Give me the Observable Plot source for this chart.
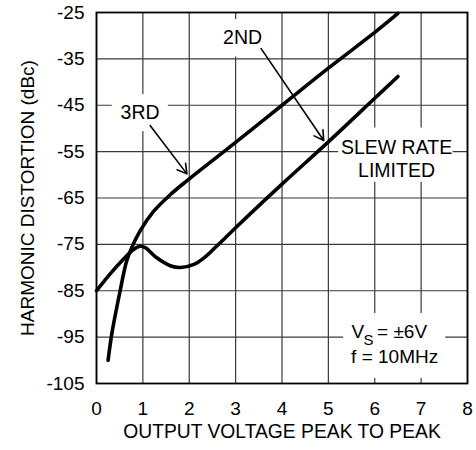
<!DOCTYPE html>
<html>
<head>
<meta charset="utf-8">
<script src="https://cdn.jsdelivr.net/npm/d3@7"></script>
<script src="https://cdn.jsdelivr.net/npm/@observablehq/plot@0.6"></script>
<style>
  html, body { margin: 0; padding: 0; background: #fff; }
</style>
</head>
<body>
<div id="chart"></div>
<script>
// Axis ticks
const xTicks = [0, 1, 2, 3, 4, 5, 6, 7, 8];
const yTicks = [-105, -95, -85, -75, -65, -55, -45, -35, -25];
const xTitle = "OUTPUT VOLTAGE PEAK TO PEAK";
const yTitle = "HARMONIC DISTORTION (dBc)";

// 3RD harmonic curve
const thirdX = [0.25, 0.33, 0.51, 0.65, 0.76, 0.94, 1.23, 1.59, 1.96, 3, 4, 5, 6, 6.5];
const thirdY = [-100, -94.3, -85, -78.6, -75.7, -72.1, -67.9, -64.3, -61.2, -53, -45, -37, -29.3, -25.2];

// 2ND harmonic curve
const secondX = [0, 0.29, 0.58, 0.8, 0.94, 1.05, 1.3, 1.59, 1.81, 2.1, 2.32, 2.6, 3, 4, 5, 6, 6.5];
const secondY = [-85, -81.4, -78.2, -76.1, -75.4, -75.7, -77.9, -79.6, -80, -79.3, -77.9, -75.3, -71.4, -62, -52.9, -43.5, -38.8];

// Annotations (data coordinates)
const boxes = [
  {x1: 2.56, x2: 3.75, y1: -26.5, y2: -34.6},
  {x1: 0.34, x2: 1.55, y1: -42.7, y2: -50.7},
  {x1: 5.22, x2: 7.69, y1: -49.9, y2: -61.6},
  {x1: 5.33, x2: 7.53, y1: -89.9, y2: -103.9}
];
const arrows = [
  {x1: 3.55, y1: -32.8, x2: 4.90, y2: -52.6},
  {x1: 1.16, y1: -49.4, x2: 1.95, y2: -59.8}
];
const labels = [
  {x: 3.15, y: -30.5, text: "2ND"},
  {x: 0.94, y: -46.7, text: "3RD"},
  {x: 6.47, y: -54.1, text: "SLEW RATE"},
  {x: 6.47, y: -59.05, text: "LIMITED"}
];
const leftLabels = [
  {x: 5.50, y: -93.9, text: "V", size: 19},
  {x: 5.76, y: -95.6, text: "S", size: 15},
  {x: 6.05, y: -93.9, text: "= ±6V", size: 19},
  {x: 5.49, y: -99.35, text: "f = 10MHz", size: 19}
];

const third = thirdX.map((x, i) => ({x, y: thirdY[i]}));
const second = secondX.map((x, i) => ({x, y: secondY[i]}));

const font = "'Liberation Sans', Arial, Helvetica, sans-serif";

const chart = Plot.plot({
  width: 476,
  height: 450,
  marginLeft: 96,
  marginRight: 9,
  marginTop: 12,
  marginBottom: 67,
  style: {fontFamily: font, fontSize: "19px", background: "white", color: "black"},
  x: {domain: [0, 8], ticks: xTicks, tickSize: 0, tickPadding: 18, tickFormat: d => String(d), label: null},
  y: {domain: [-105, -25], ticks: yTicks, tickSize: 0, tickPadding: 12, tickFormat: d => String(d), label: null},
  marks: [
    Plot.ruleX(xTicks, {stroke: "#3a3a3a", strokeWidth: 1.2}),
    Plot.ruleY(yTicks, {stroke: "#3a3a3a", strokeWidth: 1.2}),
    Plot.rect(boxes, {x1: "x1", x2: "x2", y1: "y1", y2: "y2", fill: "white"}),
    Plot.frame({stroke: "black", strokeWidth: 1.8}),
    Plot.line(third, {x: "x", y: "y", curve: "catmull-rom", stroke: "black", strokeWidth: 3.6}),
    Plot.line(second, {x: "x", y: "y", curve: "catmull-rom", stroke: "black", strokeWidth: 3.6}),
    Plot.arrow(arrows, {x1: "x1", y1: "y1", x2: "x2", y2: "y2", stroke: "black", strokeWidth: 1.6, headLength: 10}),
    Plot.text(labels, {x: "x", y: "y", text: "text", fontSize: 19.5, fill: "black"}),
    Plot.text(leftLabels, {x: "x", y: "y", text: "text", fontSize: d => d.size, textAnchor: "start", fill: "black"}),
    Plot.text([xTitle], {frameAnchor: "bottom", textAnchor: "middle", dy: 54, fontSize: 19.3, fill: "black"}),
    Plot.text([yTitle], {frameAnchor: "left", textAnchor: "middle", rotate: -90, dx: -69, fontSize: 19, fill: "black"})
  ]
});
document.getElementById("chart").appendChild(chart);
</script>
</body>
</html>
